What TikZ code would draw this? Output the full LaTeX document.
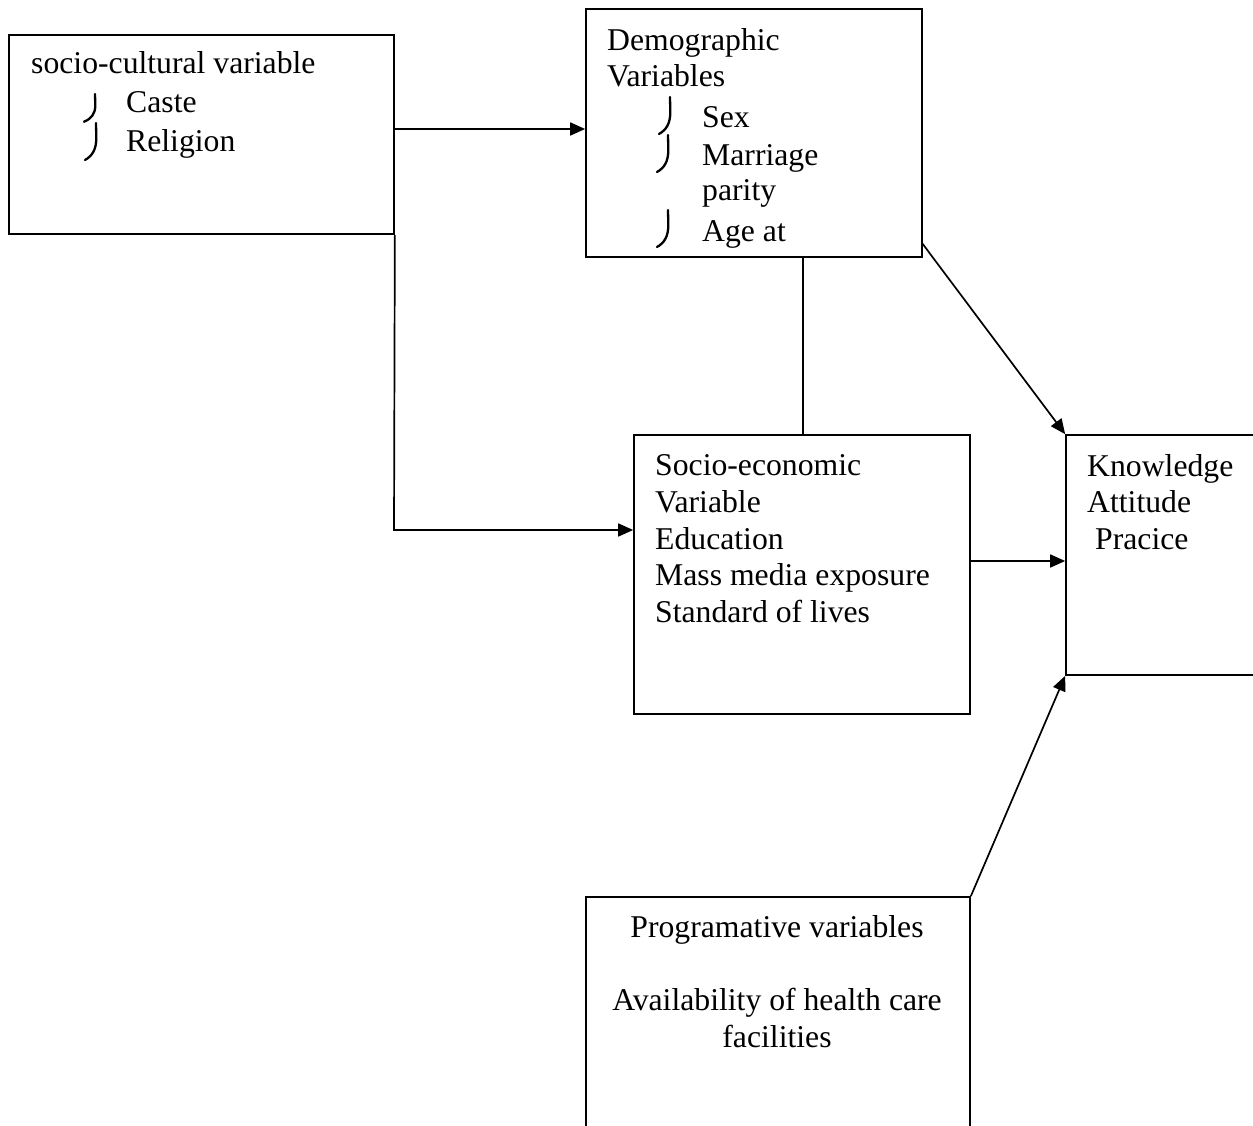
\documentclass[tikz,border=0pt]{standalone}
\usepackage{fontspec}
\setmainfont{Liberation Serif}
\usetikzlibrary{arrows.meta}
\tikzset{
  box/.style={draw, line width=1.7pt, inner sep=0pt, rectangle},
  txt/.style={anchor=base west, inner sep=0pt, font=\fontsize{31.7pt}{38pt}\selectfont},
  ctxt/.style={anchor=base, inner sep=0pt, font=\fontsize{31.7pt}{38pt}\selectfont},
  conn/.style={line width=1.7pt},
  arr/.style={line width=1.7pt, -{Triangle[length=15pt,width=13pt]}},
  hook/.pic={\draw[line width=2.3pt, line cap=round] (0,0) -- (0.3,15) .. controls (0.3,27) and (-4,33) .. (-11,37);}
}
\begin{document}
\begin{tikzpicture}[x={(1pt,0pt)}, y={(0pt,-1pt)}]
\fill[white] (0,0) rectangle (1253,1126);
\clip (0,0) rectangle (1253,1126);
% boxes
\node[box, minimum width=385pt, minimum height=199pt] (sc) at (201.5,134.5) {};
\node[box, minimum width=336pt, minimum height=248pt] (dem) at (754,133) {};
\node[box, minimum width=336pt, minimum height=279pt] (se) at (802,574.5) {};
\node[box, minimum width=220pt, minimum height=240pt] (kap) at (1176,555) {};
\node[box, minimum width=384pt, minimum height=250pt] (pg) at (778,1022) {};
% texts
\node[txt] (t1) at (31,74) {socio-cultural variable};
\node[txt] (t2) at (126,113) {Caste};
\node[txt] (t3) at (126,152) {Religion};
\pic at (95,94) [yscale=0.75] {hook};
\pic at (96,123) {hook};
\node[txt] (d1) at (607,51) {Demographic};
\node[txt] (d2) at (607,87) {Variables};
\node[txt] (d3) at (702,128) {Sex};
\node[txt] (d4) at (702,166) {Marriage};
\node[txt] (d5) at (702,201) {parity};
\node[txt] (d6) at (702,242) {Age at};
\pic at (670,97) {hook};
\pic at (668,135) {hook};
\pic at (668,210) {hook};
\node[txt] (s1) at (655,475) {Socio-economic};
\node[txt] (s2) at (655,512) {Variable};
\node[txt] (s3) at (655,549) {Education};
\node[txt] (s4) at (655,585) {Mass media exposure};
\node[txt] (s5) at (655,622) {Standard of lives};
\node[txt] (k1) at (1087,476) {Knowledge};
\node[txt] (k2) at (1087,512) {Attitude};
\node[txt] (k3) at (1095,549) {Pracice};
\node[ctxt] (p1) at (777,937) {Programative variables};
\node[ctxt] (p2) at (777,1010) {Availability of health care};
\node[ctxt] (p3) at (777,1047) {facilities};
% connectors
\coordinate (j1) at (394,129);
\coordinate (j2) at (394,530);
\coordinate (j3) at (803,257);
\coordinate (j4) at (970,561);
\coordinate (j5) at (922,243);
\draw[arr] (j1) -- (j1 -| dem.west);
\draw[arr] (sc.south east) -- (j2) -- (j2 -| se.west);
\draw[conn] (j3) -- (j3 |- se.north);
\draw[arr] (j5) -- (kap.north west);
\draw[arr] (j4) -- (j4 -| kap.west);
\draw[arr] (pg.north east) -- (kap.south west);
\end{tikzpicture}
\end{document}
